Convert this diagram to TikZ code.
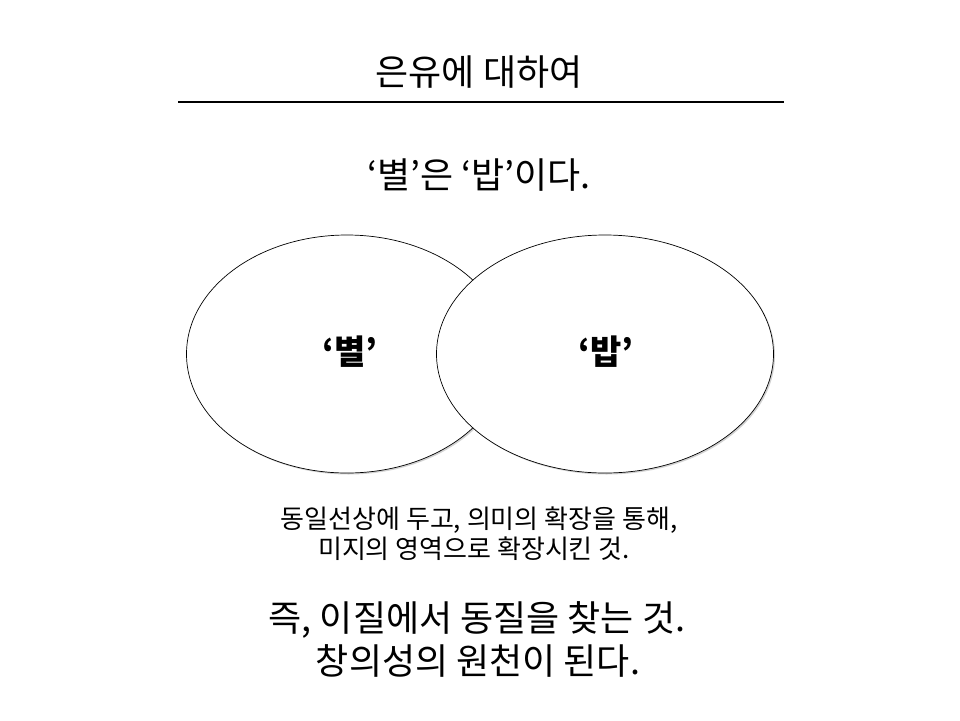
\documentclass[tikz,border=0pt]{standalone}
\usepackage{fontspec}
\setmainfont{Noto Sans CJK KR}
\newfontfamily\krfont{Noto Sans CJK KR}
\usetikzlibrary{shapes.geometric,shadows}
\tikzset{
  txt/.style={inner sep=0pt, anchor=center, font=\krfont},
  venn/.style={ellipse, draw=black, line width=0.7pt, fill=white, inner sep=0pt,
    drop shadow={shadow xshift=1.5pt, shadow yshift=-1.5pt, opacity=0.35, fill=gray}},
  vlabel/.style={inner sep=0pt, font=\krfont\bfseries\fontsize{34}{40}\selectfont}
}
\begin{document}
\begin{tikzpicture}[x=1pt,y=-1pt]
\useasboundingbox[fill=white] (0,0) rectangle (960,720);
\node[txt, font=\krfont\fontsize{36}{42}\selectfont] (title) at (479,72) {은유에 대하여};
\coordinate (la) at (178,102);
\coordinate (lb) at (784,102);
\draw[line width=1.6pt] (la) -- (lb);
\node[txt, font=\krfont\fontsize{36}{42}\selectfont] (claim) at (479,175) {‘별’은 ‘밥’이다.};
\node[venn, minimum width=321pt, minimum height=238pt] (e1) at (347,354) {};
\node[venn, minimum width=337pt, minimum height=238pt] (e2) at (605,354) {};
\node[vlabel] (b1) at (350,352) {‘별’};
\node[vlabel] (b2) at (606,352) {‘밥’};
\node[txt, font=\krfont\fontsize{26}{30}\selectfont] (d1) at (479,520) {동일선상에 두고, 의미의 확장을 통해,};
\node[txt, font=\krfont\fontsize{26}{30}\selectfont] (d2) at (474,549) {미지의 영역으로 확장시킨 것.};
\node[txt, font=\krfont\fontsize{36}{42}\selectfont] (c1) at (477,620) {즉, 이질에서 동질을 찾는 것.};
\node[txt, font=\krfont\fontsize{36}{42}\selectfont] (c2) at (478,661) {창의성의 원천이 된다.};
\end{tikzpicture}
\end{document}
